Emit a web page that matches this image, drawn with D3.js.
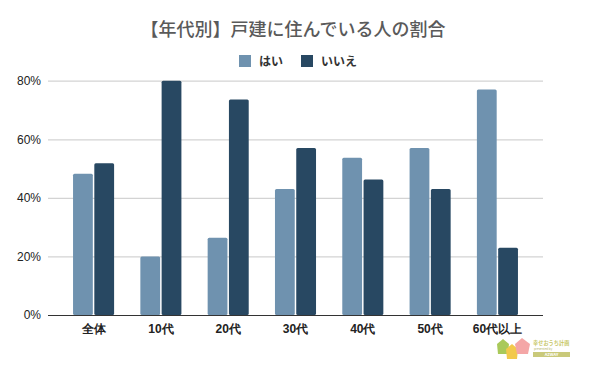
<!DOCTYPE html>
<html><head><meta charset="utf-8">
<script src="https://cdn.jsdelivr.net/npm/d3@7"></script>
<style>body{margin:0;background:#fff;font-family:"Noto Sans CJK JP","Noto Sans",sans-serif;}</style>
</head><body><svg id="c" width="590" height="365"></svg>
<script>
const categories = ["全体","10代","20代","30代","40代","50代","60代以上"];
const seriesNames = ["はい","いいえ"];
const yesValues = [48.2, 20.0, 26.4, 43.0, 53.7, 57.0, 77.0];
const noValues  = [51.8, 80.0, 73.6, 57.0, 46.3, 43.0, 23.0];
const yTicks = [0, 20, 40, 60, 80];
const colors = ["#6f92af", "#284862"];

const svg = d3.select("#c");
const m = {left:48, right:543, top:80.7, bottom:315};
const y = d3.scaleLinear().domain([0,80]).range([m.bottom, m.top]);
const x = d3.scaleBand().domain(categories).range([m.left, m.right]).paddingInner(0.39).paddingOuter(0.372);
const xs = d3.scaleBand().domain(seriesNames).range([0, x.bandwidth()]).paddingInner(0.07);

// title
svg.append("text").attr("x", 293).attr("y", 36).attr("text-anchor","middle")
  .attr("font-size", 18).attr("fill","#5a5a5a").attr("font-weight", 500)
  .text("【年代別】戸建に住んでいる人の割合");

// legend
const lg = svg.append("g");
const legendPos = [239, 301];
seriesNames.forEach((s,i)=>{
  lg.append("rect").attr("x", legendPos[i]).attr("y", 55).attr("width", 12).attr("height", 12).attr("fill", colors[i]);
  lg.append("text").attr("x", legendPos[i]+20).attr("y", 65.5).attr("font-size", 12).attr("font-weight", 700)
    .attr("fill","#333").text(s);
});

// grid
const yAxis = d3.axisLeft(y).tickValues(yTicks).tickSize(-(m.right-m.left)).tickFormat(d=>d+"%");
const ga = svg.append("g").attr("transform", `translate(${m.left},0)`).call(yAxis);
ga.select(".domain").remove();
ga.selectAll(".tick line").attr("stroke","#d3d3d3").attr("stroke-width",1.2);
ga.selectAll(".tick text").attr("x",-7).attr("font-size",12).attr("fill","#222")
  .attr("font-family","Liberation Sans, Arial, sans-serif");

// bars
const data = categories.map((c,i)=>({c, vals:[yesValues[i], noValues[i]]}));
const g = svg.append("g");
data.forEach(d=>{
  d.vals.forEach((v,j)=>{
    g.append("rect")
      .attr("x", x(d.c)+xs(seriesNames[j]))
      .attr("y", y(v))
      .attr("width", xs.bandwidth())
      .attr("height", m.bottom - y(v))
      .attr("rx", 1.5)
      .attr("fill", colors[j]);
  });
});

// baseline
svg.append("line").attr("x1", m.left).attr("x2", m.right).attr("y1", m.bottom+0.5).attr("y2", m.bottom+0.5)
  .attr("stroke","#333").attr("stroke-width",1.2);

// x labels
const xAxis = d3.axisBottom(x).tickSize(0).tickPadding(0);
const gx = svg.append("g").attr("transform", `translate(0,${m.bottom})`).call(xAxis);
gx.select(".domain").remove();
gx.selectAll(".tick text").attr("y", 9).attr("font-size", 12).attr("font-weight", 700).attr("fill","#222");

// logo (approximate)
const lgo = svg.append("g").attr("transform","translate(497,338)");
lgo.append("path").attr("d","M0,6 L6,1 L12,6 L11,16 L1,16 Z").attr("fill","#a9c95a");
lgo.append("path").attr("d","M9,11 L15,6 L21,11 L20,21 L10,21 Z").attr("fill","#f2c94c");
lgo.append("path").attr("d","M18,6 L25,0 L33,6 L31,16 L20,16 Z").attr("fill","#f4a6a6");
lgo.append("text").attr("x",36).attr("y",7).attr("font-size",5.2).attr("font-weight",700).attr("fill","#c8c86a").text("幸せおうち計画");
lgo.append("text").attr("x",37).attr("y",11.5).attr("font-size",3).attr("fill","#b5b56a").text("presented by");
lgo.append("rect").attr("x",36).attr("y",14).attr("width",37).attr("height",5).attr("fill","#c9c97a");
lgo.append("text").attr("x",54.5).attr("y",18).attr("text-anchor","middle").attr("font-size",4).attr("font-weight",700).attr("fill","#fff").text("AZWAY");
</script></body></html>
